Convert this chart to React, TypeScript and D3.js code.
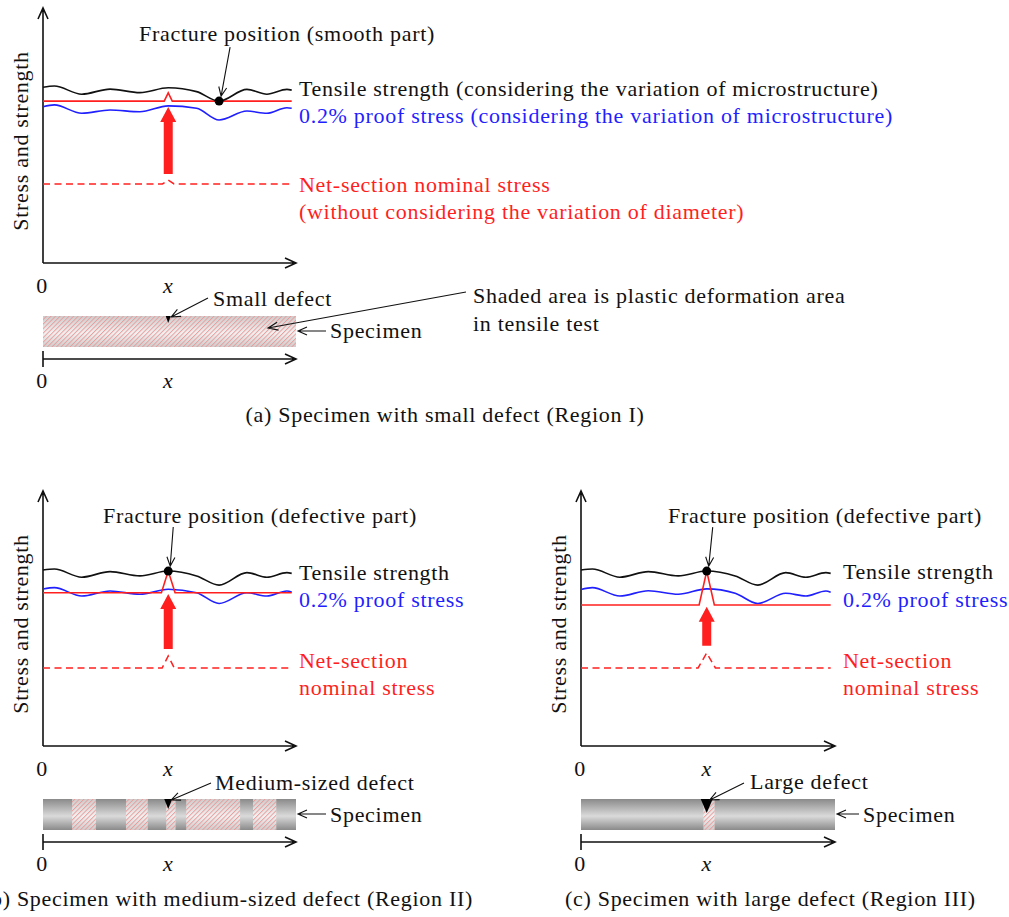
import React from 'react';
import * as d3 from 'd3';

const W = 1009;
const H = 917;

// positions along the specimen where the curves were read (0 = left end, 100 = right end)
const knotX = [0, 4.5, 15.3, 26.5, 38.3, 49.5, 60.7, 69.6, 80.6, 88.5, 96.4, 98.3];

// stress and strength, arbitrary units (0 = x axis, 100 = top of y axis)
const tensileA = [68.9, 69.4, 66.2, 68.2, 66.8, 68.7, 67.2, 63.5, 68.1, 66.2, 68.1, 67.8];
const proofA = [61.3, 62.0, 58.7, 60.0, 59.3, 61.6, 60.7, 56.1, 59.6, 58.7, 60.9, 60.7];
const tensileB = [69.0, 69.4, 66.2, 68.4, 66.7, 68.6, 66.7, 63.1, 68.0, 66.2, 68.0, 67.7];
const proofB = [61.6, 62.1, 58.8, 60.8, 59.5, 61.5, 60.1, 55.9, 60.1, 58.8, 60.8, 60.4];
const tensileC = [69.0, 69.4, 66.2, 68.4, 66.7, 68.6, 66.7, 63.1, 68.0, 66.2, 68.0, 67.7];
const proofC = [61.4, 62.1, 58.8, 60.9, 59.5, 61.6, 59.9, 55.9, 59.9, 58.8, 60.8, 60.3];

const defectX = [49.5, 49.5, 49.5];
const fractureKnot = [7, 5, 5];
const curveEnd = 98.3;

// net-section stress (solid) with its spike at the defect
const netLevel = [63.5, 60.1, 55.3];
const netPeak = [66.7, 68.6, 68.6];
const netHalf = [1.6, 2.7, 3.0];
// nominal stress (dashed)
const nominalLevel = [31.0, 30.6, 30.6];
const nominalPeak = [32.5, 35.3, 36.5];
const nominalHalf = [2.3, 2.4, 3.4];
// thick red arrow: from nominal to net-section stress
const arrowFrom = [34.9, 38.0, 39.3];
const arrowTo = [61.2, 59.6, 54.6];

// plastic deformation (hatched) stretches of the specimen
const hatchA = [[0, 100]];
const hatchB = [[11.5, 20.9], [32.8, 41.4], [48.7, 52.4], [56.6, 77.9], [83.0, 92.2]];
const hatchC = [[48.2, 52.6]];

const tensileLabels = ['Tensile strength (considering the variation of microstructure)', 'Tensile strength', 'Tensile strength'];
const proofLabels = ['0.2% proof stress (considering the variation of microstructure)', '0.2% proof stress', '0.2% proof stress'];
const nominalLabels = [
  ['Net-section nominal stress', '(without considering the variation of diameter)'],
  ['Net-section', 'nominal stress'],
  ['Net-section', 'nominal stress'],
];
const fractureLabels = ['Fracture position (smooth part)', 'Fracture position (defective part)', 'Fracture position (defective part)'];
const defectLabels = ['Small defect', 'Medium-sized defect', 'Large defect'];
const captions = ['(a) Specimen with small defect (Region I)', '(b) Specimen with medium-sized defect (Region II)', '(c) Specimen with large defect (Region III)'];
const shadedNote = ['Shaded area is plastic deformation area', 'in tensile test'];

const series = [
  { tensile: tensileA, proof: proofA, hatch: hatchA },
  { tensile: tensileB, proof: proofB, hatch: hatchB },
  { tensile: tensileC, proof: proofC, hatch: hatchC },
];

const layout = [
  { x0: 43, x1: 296, yBottom: 263, specTop: 316, specAxisY: 359, labelX: 299, labelYs: [96, 123, 192, 219], frac: [139, 41], fracStart: [11, -54], defLbl: [213, 306], defStart: [208, 298], tri: [5, 7], specLbl: [330, 338], caption: [445, 422, 'middle'] },
  { x0: 43, x1: 296, yBottom: 746, specTop: 799, specAxisY: 842, labelX: 299, labelYs: [580, 607, 668, 695], frac: [103, 523], fracStart: [5, -44], defLbl: [215, 790], defStart: [211, 783], tri: [8, 10], specLbl: [330, 822], caption: [473, 906, 'end'] },
  { x0: 581, x1: 835, yBottom: 746, specTop: 799, specAxisY: 842, labelX: 843, labelYs: [579, 607, 668, 695], frac: [668, 523], fracStart: [6, -44], defLbl: [750, 789], defStart: [744, 783], tri: [12, 14], specLbl: [863, 822], caption: [565, 906, 'start'] },
];

const RED = '#ff1f1f';
const BLUE = '#1f1fff';
const INK = '#111';
const FONT = "'Liberation Serif', 'Times New Roman', serif";
const SPEC_H = 31;

function arrowPath(x1: number, y1: number, x2: number, y2: number, len = 9, half = 4) {
  const a = Math.atan2(y2 - y1, x2 - x1);
  const bx = x2 - len * Math.cos(a);
  const by = y2 - len * Math.sin(a);
  const px = -Math.sin(a) * half;
  const py = Math.cos(a) * half;
  return `M${x1},${y1}L${x2},${y2}M${bx + px},${by + py}L${x2},${y2}L${bx - px},${by - py}`;
}

function Label({ x, y, children, fill = INK, anchor = 'start', italic = false }: any) {
  return (
    <text x={x} y={y} fill={fill} textAnchor={anchor} fontStyle={italic ? 'italic' : 'normal'}
      style={{ fontFamily: FONT, fontSize: 22, letterSpacing: '0.7px' }}>{children}</text>
  );
}

function Panel({ i }: { i: number }) {
  const p: any = layout[i];
  const s = series[i];
  const x = d3.scaleLinear().domain([0, 100]).range([p.x0, p.x1]);
  const y = d3.scaleLinear().domain([0, 100]).range([p.yBottom, p.yBottom - 255]);
  const smooth = d3.line<number>().x((_, k) => x(knotX[k])).y(d => y(d)).curve(d3.curveMonotoneX);
  const poly = d3.line<number[]>().x(d => x(d[0])).y(d => y(d[1]));

  const dx = defectX[i];
  const net = [[0, netLevel[i]], [dx - netHalf[i], netLevel[i]], [dx, netPeak[i]], [dx + netHalf[i], netLevel[i]], [curveEnd, netLevel[i]]];
  const nominal = [[0, nominalLevel[i]], [dx - nominalHalf[i], nominalLevel[i]], [dx, nominalPeak[i]], [dx + nominalHalf[i], nominalLevel[i]], [curveEnd, nominalLevel[i]]];

  // thick arrow
  const cx = x(dx);
  const tip = y(arrowTo[i]);
  const base = y(arrowFrom[i]);
  const headLen = 15, headHalf = 8, shaftHalf = 4.5;
  const thick = `M${cx - shaftHalf},${base}L${cx - shaftHalf},${tip + headLen}L${cx - headHalf},${tip + headLen}L${cx},${tip}L${cx + headHalf},${tip + headLen}L${cx + shaftHalf},${tip + headLen}L${cx + shaftHalf},${base}Z`;

  const fk = fractureKnot[i];
  const dotX = x(knotX[fk]);
  const dotY = y(s.tensile[fk]);

  const [tw, th] = p.tri;

  return (
    <g>
      {/* axes */}
      <path d={arrowPath(p.x0, p.yBottom, p.x1, p.yBottom, 11, 5)} fill="none" stroke={INK} strokeWidth={1.6} />
      <path d={arrowPath(p.x0, p.yBottom, p.x0, y(100), 11, 5)} fill="none" stroke={INK} strokeWidth={1.6} />
      <g transform={`translate(${p.x0 - 15},${p.yBottom - 122}) rotate(-90)`}>
        <Label x={0} y={0} anchor="middle">Stress and strength</Label>
      </g>
      <Label x={p.x0 - 1} y={p.yBottom + 30} anchor="middle">0</Label>
      <Label x={cx} y={p.yBottom + 30} anchor="middle" italic>x</Label>

      {/* curves */}
      <path d={poly(nominal) || ''} fill="none" stroke={RED} strokeWidth={1.5} strokeDasharray="7 4.5" />
      <path d={thick} fill={RED} />
      <path d={smooth(s.proof) || ''} fill="none" stroke={BLUE} strokeWidth={1.6} />
      <path d={poly(net) || ''} fill="none" stroke={RED} strokeWidth={1.6} />
      <path d={smooth(s.tensile) || ''} fill="none" stroke={INK} strokeWidth={1.6} />
      <circle cx={dotX} cy={dotY} r={4.5} fill="#000" />

      {/* annotations */}
      <Label x={p.frac[0]} y={p.frac[1]}>{fractureLabels[i]}</Label>
      <path d={arrowPath(dotX + p.fracStart[0], dotY + p.fracStart[1], dotX + 2, dotY - 5, 9, 4)} fill="none" stroke={INK} strokeWidth={1.1} />
      <Label x={p.labelX} y={p.labelYs[0]}>{tensileLabels[i]}</Label>
      <Label x={p.labelX} y={p.labelYs[1]} fill={BLUE}>{proofLabels[i]}</Label>
      <Label x={p.labelX} y={p.labelYs[2]} fill={RED}>{nominalLabels[i][0]}</Label>
      <Label x={p.labelX} y={p.labelYs[3]} fill={RED}>{nominalLabels[i][1]}</Label>

      {/* specimen */}
      <rect x={x(0)} y={p.specTop} width={x(100) - x(0)} height={SPEC_H} fill="url(#gPlain)" />
      {s.hatch.map((h, k) => (
        <g key={k}>
          <rect x={x(h[0])} y={p.specTop} width={x(h[1]) - x(h[0])} height={SPEC_H} fill="url(#gHatchBg)" />
          <rect x={x(h[0])} y={p.specTop} width={x(h[1]) - x(h[0])} height={SPEC_H} fill="url(#hatch)" />
        </g>
      ))}
      <path d={`M${cx - tw / 2},${p.specTop}L${cx + tw / 2},${p.specTop}L${cx},${p.specTop + th}Z`} fill="#000" />
      <Label x={p.defLbl[0]} y={p.defLbl[1]}>{defectLabels[i]}</Label>
      <path d={arrowPath(p.defStart[0], p.defStart[1], cx + 3, p.specTop + 1, 9, 4)} fill="none" stroke={INK} strokeWidth={1.1} />
      <Label x={p.specLbl[0]} y={p.specLbl[1]}>Specimen</Label>
      <path d={arrowPath(p.specLbl[0] - 4, p.specTop + 15, x(100) + 2, p.specTop + 15, 9, 4)} fill="none" stroke={INK} strokeWidth={1.1} />

      {/* specimen coordinate axis */}
      <path d={arrowPath(p.x0, p.specAxisY, p.x1, p.specAxisY, 11, 5)} fill="none" stroke={INK} strokeWidth={1.6} />
      <line x1={p.x0} x2={p.x0} y1={p.specAxisY - 8} y2={p.specAxisY + 8} stroke={INK} strokeWidth={1.6} />
      <Label x={p.x0 - 1} y={p.specAxisY + 29} anchor="middle">0</Label>
      <Label x={cx} y={p.specAxisY + 29} anchor="middle" italic>x</Label>
      <Label x={p.caption[0]} y={p.caption[1]} anchor={p.caption[2]}>{captions[i]}</Label>
    </g>
  );
}

export default function App() {
  return (
    <svg width={W} height={H} style={{ position: 'absolute', left: 0, top: 0, background: '#fff' }}>
      <defs>
        <linearGradient id="gPlain" x1="0" y1="0" x2="0" y2="1">
          <stop offset="0%" stopColor="#8a8a8a" />
          <stop offset="55%" stopColor="#dadada" />
          <stop offset="100%" stopColor="#8a8a8a" />
        </linearGradient>
        <linearGradient id="gHatchBg" x1="0" y1="0" x2="0" y2="1">
          <stop offset="0%" stopColor="#cdcdcd" />
          <stop offset="55%" stopColor="#f2f2f2" />
          <stop offset="100%" stopColor="#cdcdcd" />
        </linearGradient>
        <pattern id="hatch" patternUnits="userSpaceOnUse" width={3.2} height={3.2} patternTransform="rotate(45)">
          <line x1={0.5} y1={0} x2={0.5} y2={3.2} stroke="#eb9696" strokeWidth={0.9} />
        </pattern>
      </defs>
      <rect width={W} height={H} fill="#fff" />
      <Panel i={0} />
      <Panel i={1} />
      <Panel i={2} />
      {/* note about the hatching, panel (a) */}
      <Label x={473} y={303}>{shadedNote[0]}</Label>
      <Label x={473} y={331}>{shadedNote[1]}</Label>
      <path d={arrowPath(466, 292, 268, 328, 10, 4)} fill="none" stroke={INK} strokeWidth={1.1} />
    </svg>
  );
}
